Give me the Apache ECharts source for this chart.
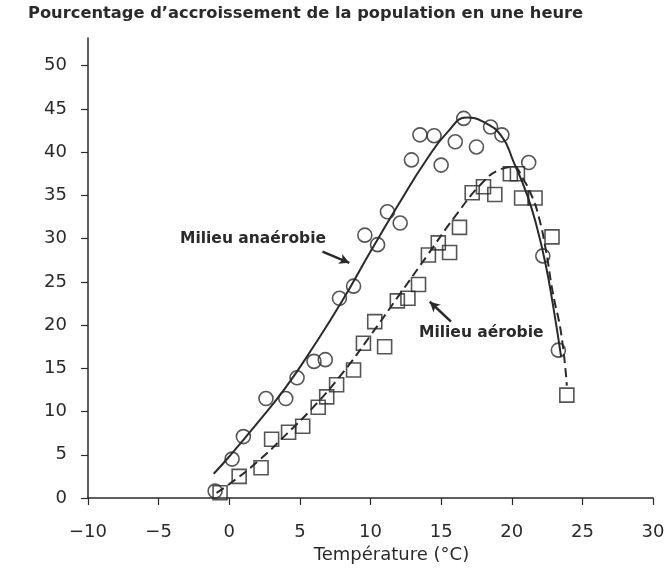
<!DOCTYPE html>
<html>
<head>
<meta charset="utf-8">
<script src="https://cdn.jsdelivr.net/npm/echarts@6/dist/echarts.min.js"></script>
<style>
  html, body { margin: 0; padding: 0; background: #fff; }
  #chart { width: 669px; height: 570px; }
</style>
</head>
<body>
<div id="chart"></div>
<script>
// measured points (circles = anaerobic, squares = aerobic)
const anaerobicPoints = [
  [-1.0, 0.8], [0.2, 4.5], [1.0, 7.1], [2.6, 11.5], [4.0, 11.5], [4.8, 13.9],
  [6.0, 15.8], [6.8, 16.0], [7.8, 23.1], [8.8, 24.5], [9.6, 30.4], [10.5, 29.3],
  [11.2, 33.1], [12.1, 31.8], [12.9, 39.1], [13.5, 42.0], [14.5, 41.9], [15.0, 38.5],
  [16.0, 41.2], [16.6, 43.9], [17.5, 40.6], [18.5, 42.9], [19.3, 42.0], [21.2, 38.8],
  [22.2, 28.0], [23.3, 17.1]
]
const aerobicPoints = [
  [-0.65, 0.6], [0.7, 2.5], [2.25, 3.5], [3.0, 6.8], [4.2, 7.6], [5.2, 8.3],
  [6.3, 10.5], [6.9, 11.7], [7.6, 13.1], [8.8, 14.8], [9.5, 17.9], [10.3, 20.4],
  [11.0, 17.5], [11.9, 22.8], [12.65, 23.1], [13.4, 24.7], [14.1, 28.1], [14.8, 29.5],
  [15.6, 28.4], [16.3, 31.3], [17.2, 35.3], [18.0, 36.0], [18.8, 35.1], [19.9, 37.5],
  [20.4, 37.5], [20.7, 34.7], [21.65, 34.7], [22.85, 30.2], [23.9, 11.9]
]

// fitted curves as drawn on the figure
const anaerobicCurve = [
  [-1.1, 2.8], [0, 4.8], [2, 8.7], [4, 12.8], [6, 17.6], [8, 22.8], [10, 28.5],
  [12, 34.0], [14, 39.2], [15.5, 42.4], [16.8, 44.0], [18, 43.5], [19.3, 41.8],
  [20.1, 39.0], [21.1, 35.0], [21.8, 31.2], [22.4, 27.0], [22.9, 22.5], [23.5, 16.3]
]
const aerobicCurve = [
  [-0.9, 0.6], [0, 1.6], [2, 4.2], [4, 7.3], [6, 10.6], [8, 14.4], [10, 18.8],
  [12, 23.4], [14, 28.0], [16, 32.6], [18, 36.6], [19.2, 38.0], [20.1, 38.3],
  [20.8, 36.9], [21.4, 35.0], [21.9, 32.6], [22.4, 28.8], [22.9, 23.8], [23.5, 19.0],
  [23.9, 13.0]
]

const xTicks = [-10, -5, 0, 5, 10, 15, 20, 25, 30]
const yTicks = [0, 5, 10, 15, 20, 25, 30, 35, 40, 45, 50]

// arrows of the two labels, [from, to]
const anaerobicArrow = [[6.6, 28.5], [8.5, 27.2]]
const aerobicArrow = [[15.7, 20.4], [14.2, 22.7]]

const ink = '#2a2a2a'
const font = '"DejaVu Sans", sans-serif'

const chart = echarts.init(document.getElementById('chart'))

function arrow(pts) {
  return {
    silent: true,
    symbol: ['none', 'arrow'],
    symbolSize: [8, 10],
    label: { show: false },
    lineStyle: { color: ink, width: 2.5, type: 'solid' },
    data: [[{ coord: pts[0] }, { coord: pts[1] }]]
  }
}

chart.setOption({
  animation: false,
  backgroundColor: '#fff',
  title: {
    text: 'Pourcentage d\u2019accroissement de la population en une heure',
    left: 23,
    top: 1,
    textStyle: { fontFamily: font, fontSize: 16.3, fontWeight: 'bold', color: ink }
  },
  grid: { left: 88, right: 16, top: 38, bottom: 72 },
  xAxis: {
    type: 'value',
    min: -10,
    max: 30,
    interval: 5,
    name: 'Température (°C)',
    nameLocation: 'middle',
    nameGap: 43,
    nameTextStyle: { fontFamily: font, fontSize: 18, color: ink, padding: [0, 0, 0, 42] },
    splitLine: { show: false },
    axisLine: { onZero: false, lineStyle: { color: ink, width: 1.5 } },
    axisTick: { length: 7, lineStyle: { color: ink, width: 1.2 }, customValues: xTicks },
    axisLabel: {
      margin: 25,
      fontFamily: font,
      fontSize: 18,
      color: ink,
      customValues: xTicks,
      formatter: v => String(v).replace('-', '\u2212')
    }
  },
  yAxis: {
    type: 'value',
    min: 0,
    max: 53.2,
    splitLine: { show: false },
    axisLine: { onZero: false, lineStyle: { color: ink, width: 1.5 } },
    axisTick: { length: 7, lineStyle: { color: ink, width: 1.2 }, customValues: yTicks },
    axisLabel: { margin: 21, fontFamily: font, fontSize: 18, color: ink, customValues: yTicks }
  },
  graphic: [
    {
      type: 'text',
      left: 180,
      top: 231,
      style: { text: 'Milieu anaérobie', font: 'bold 15.5px ' + font, fill: ink }
    },
    {
      type: 'text',
      left: 419,
      top: 325,
      style: { text: 'Milieu aérobie', font: 'bold 15.5px ' + font, fill: ink }
    }
  ],
  series: [
    {
      type: 'line',
      data: anaerobicCurve,
      smooth: true,
      showSymbol: false,
      lineStyle: { color: ink, width: 2 },
      markLine: arrow(anaerobicArrow)
    },
    {
      type: 'line',
      data: aerobicCurve,
      smooth: true,
      showSymbol: false,
      lineStyle: { color: ink, width: 2, type: [9, 5] },
      markLine: arrow(aerobicArrow)
    },
    {
      type: 'scatter',
      data: anaerobicPoints,
      symbol: 'circle',
      symbolSize: 14,
      itemStyle: { color: 'rgba(0,0,0,0)', borderColor: ink, borderWidth: 1.6 }
    },
    {
      type: 'scatter',
      data: aerobicPoints,
      symbol: 'rect',
      symbolSize: 14,
      itemStyle: { color: 'rgba(0,0,0,0)', borderColor: ink, borderWidth: 1.6 }
    }
  ]
})
</script>
</body>
</html>
